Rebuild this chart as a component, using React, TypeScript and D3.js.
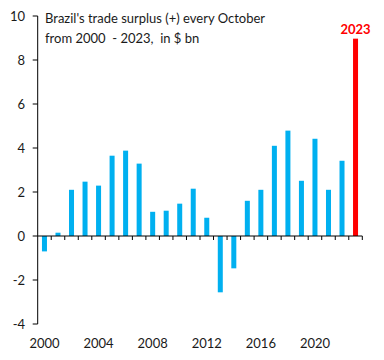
import React from "react";
import * as d3 from "d3";

const years: number[] = Array.from({ length: 24 }, (_, i) => 2000 + i);
const surplus: number[] = [
  -0.7, 0.15, 2.1, 2.47, 2.29, 3.65, 3.88, 3.29, 1.1, 1.15, 1.47, 2.15,
  0.83, -2.56, -1.47, 1.6, 2.1, 4.1, 4.79, 2.51, 4.42, 2.1, 3.42, 8.97,
];
const yTicks: number[] = [-4, -2, 0, 2, 4, 6, 8, 10];
const xTickLabels: number[] = [2000, 2004, 2008, 2012, 2016, 2020];
const titleLines: string[] = [
  "Brazil's trade surplus (+) every October",
  "from 2000  - 2023,  in $ bn",
];
const highlightYear = 2023;

const W = 384;
const H = 360;
const left = 37.7;
const right = 362.3;
const top = 16;
const bottom = 324;
const font = "Lato, 'Open Sans', sans-serif";
const textColor = "#1a1a1a";

export default function App() {
  const x = d3
    .scaleBand<number>()
    .domain(years)
    .range([left, right])
    .paddingInner(0.63)
    .paddingOuter(0.315);
  const xb = d3.scaleBand<number>().domain(years).range([left, right]);
  const y = d3.scaleLinear().domain([-4, 10]).range([bottom, top]);
  const y0 = y(0);

  return (
    <svg
      width={W}
      height={H}
      style={{ position: "absolute", left: 0, top: 0, background: "#fff" }}
    >
      {years.map((yr, i) => {
        const v = surplus[i];
        return (
          <rect
            key={yr}
            x={x(yr)}
            width={x.bandwidth()}
            y={Math.min(y(v), y0)}
            height={Math.abs(y(v) - y0)}
            fill={yr === highlightYear ? "#FF0000" : "#00B0F0"}
          />
        );
      })}
      <line x1={left} x2={left} y1={top} y2={bottom} stroke="#000" strokeWidth={1} />
      {yTicks.map((t) => (
        <g key={t}>
          <line x1={left - 5} x2={left} y1={y(t)} y2={y(t)} stroke="#000" />
          <text
            x={25}
            y={y(t)}
            dy="0.35em"
            textAnchor="end"
            fontFamily={font}
            fontSize={13}
            fill={textColor}
          >
            {t}
          </text>
        </g>
      ))}
      <line x1={left} x2={right} y1={y0} y2={y0} stroke="#000" strokeWidth={1} />
      {years.map((yr) => (
        <line
          key={yr}
          x1={(xb(yr) as number) + xb.bandwidth()}
          x2={(xb(yr) as number) + xb.bandwidth()}
          y1={y0}
          y2={y0 + 4}
          stroke="#000"
        />
      ))}
      {xTickLabels.map((yr) => (
        <text
          key={yr}
          x={(xb(yr) as number) + xb.bandwidth() / 2}
          y={343}
          dy="0.35em"
          textAnchor="middle"
          fontFamily={font}
          fontSize={13}
          fill={textColor}
        >
          {yr}
        </text>
      ))}
      <text
        x={(xb(highlightYear) as number) + xb.bandwidth() / 2}
        y={29}
        dy="0.35em"
        textAnchor="middle"
        fontFamily={font}
        fontSize={13}
        fontWeight="bold"
        fill="#FF0000"
      >
        {highlightYear}
      </text>
      {titleLines.map((l, i) => (
        <text
          key={i}
          x={45}
          y={18 + i * 20}
          dy="0.35em"
          fontFamily={font}
          fontSize={13}
          fill={textColor}
          style={{ whiteSpace: "pre" }}
        >
          {l}
        </text>
      ))}
    </svg>
  );
}
